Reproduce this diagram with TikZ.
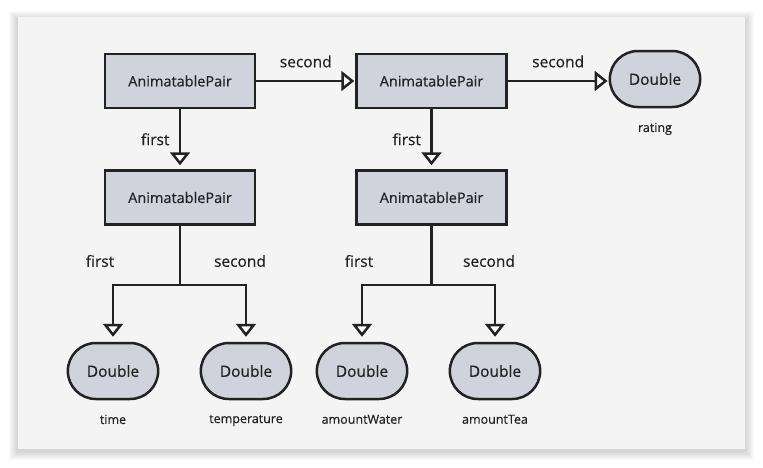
\documentclass[tikz,border=0pt]{standalone}
\usepackage{fontspec}
\setmainfont{Open Sans}
\newfontfamily\medfont{Open Sans}[FakeBold=0.5]
\usetikzlibrary{shapes.misc,arrows.meta,positioning,calc}
\definecolor{panelgray}{HTML}{F4F4F4}
\definecolor{boxfill}{HTML}{D0D3DC}
\definecolor{inkdark}{HTML}{222222}
\tikzset{
  pair/.style={rectangle, draw=inkdark, fill=boxfill, line width=2.5pt,
               minimum width=150pt, minimum height=54pt, text=inkdark,
               font=\medfont\fontsize{14.5}{16}\selectfont},
  dbl/.style={rounded rectangle, draw=inkdark, fill=boxfill, line width=2.5pt,
              minimum width=97pt, minimum height=56pt, text=inkdark,
              font=\medfont\fontsize{15.5}{17}\selectfont},
  link/.style={-{Triangle[fill=white, length=13pt, width=20pt]}, line width=2.5pt,
               draw=inkdark},
  edgelbl/.style={text=inkdark, font=\medfont\fontsize{15.5}{17}\selectfont},
  fieldlbl/.style={text=inkdark, font=\medfont\fontsize{12.5}{14}\selectfont},
}

\begin{document}
\begin{tikzpicture}[x=1pt, y=-1pt]

\useasboundingbox (0,0) rectangle (763,467);

% -------------------- panel with shadow --------------------
\foreach \s in {1,...,9}
  \fill[black, opacity=0.018] (18-\s,17-\s+3) rectangle (745+\s,449+\s+2);
\fill[panelgray] (18,17) rectangle (745,449);

% -------------------- pairs --------------------
\node[pair] (root) at (180,81) {AnimatablePair};
\node[pair, right=99pt of root] (inner) {AnimatablePair};
\node[pair, below=60pt of root] (left) {AnimatablePair};
\node[pair, below=60pt of inner] (right) {AnimatablePair};

% -------------------- doubles --------------------
\node[dbl] (rating) at (655,79) {Double};
\node[dbl] (time) at (113,371) {Double};
\node[dbl] (temp) at (246,371) {Double};
\node[dbl] (water) at (362,371) {Double};
\node[dbl] (tea) at (495,371) {Double};

\node[fieldlbl, below=11pt of rating] {rating};
\node[fieldlbl, below=11pt of time] {time};
\node[fieldlbl, below=11pt of temp] {temperature};
\node[fieldlbl, below=11pt of water] {amountWater};
\node[fieldlbl, below=11pt of tea] {amountTea};

% -------------------- top links --------------------
\draw[link, shorten >=1pt] (root.east) -- (inner.west)
    node[midway, above=9pt, edgelbl] {second};
\draw[link, shorten >=1pt] (inner.east) -- (rating.west |- inner.east)
    node[midway, above=9pt, edgelbl] {second};
\draw[link, shorten >=4pt] (root.south) -- (left.north)
    node[midway, left=6pt, edgelbl] {first};
\draw[link, shorten >=4pt] (inner.south) -- (right.north)
    node[midway, left=6pt, edgelbl] {first};

% -------------------- branches --------------------
\coordinate (lsplit) at ($(left.south)+(0,59)$);
\coordinate (rsplit) at ($(right.south)+(0,59)$);

\draw[line width=2.5pt, draw=inkdark] (left.south) -- (lsplit);
\draw[link, shorten >=5pt] (lsplit) -| (time.north);
\draw[link, shorten >=5pt] (lsplit) -| (temp.north);
\draw[line width=2.5pt, draw=inkdark] (right.south) -- (rsplit);
\draw[link, shorten >=5pt] (rsplit) -| (water.north);
\draw[link, shorten >=5pt] (rsplit) -| (tea.north);

\node[edgelbl] at (100,261) {first};
\node[edgelbl] at (240,261) {second};
\node[edgelbl] at (359,261) {first};
\node[edgelbl] at (489,261) {second};

\end{tikzpicture}
\end{document}
